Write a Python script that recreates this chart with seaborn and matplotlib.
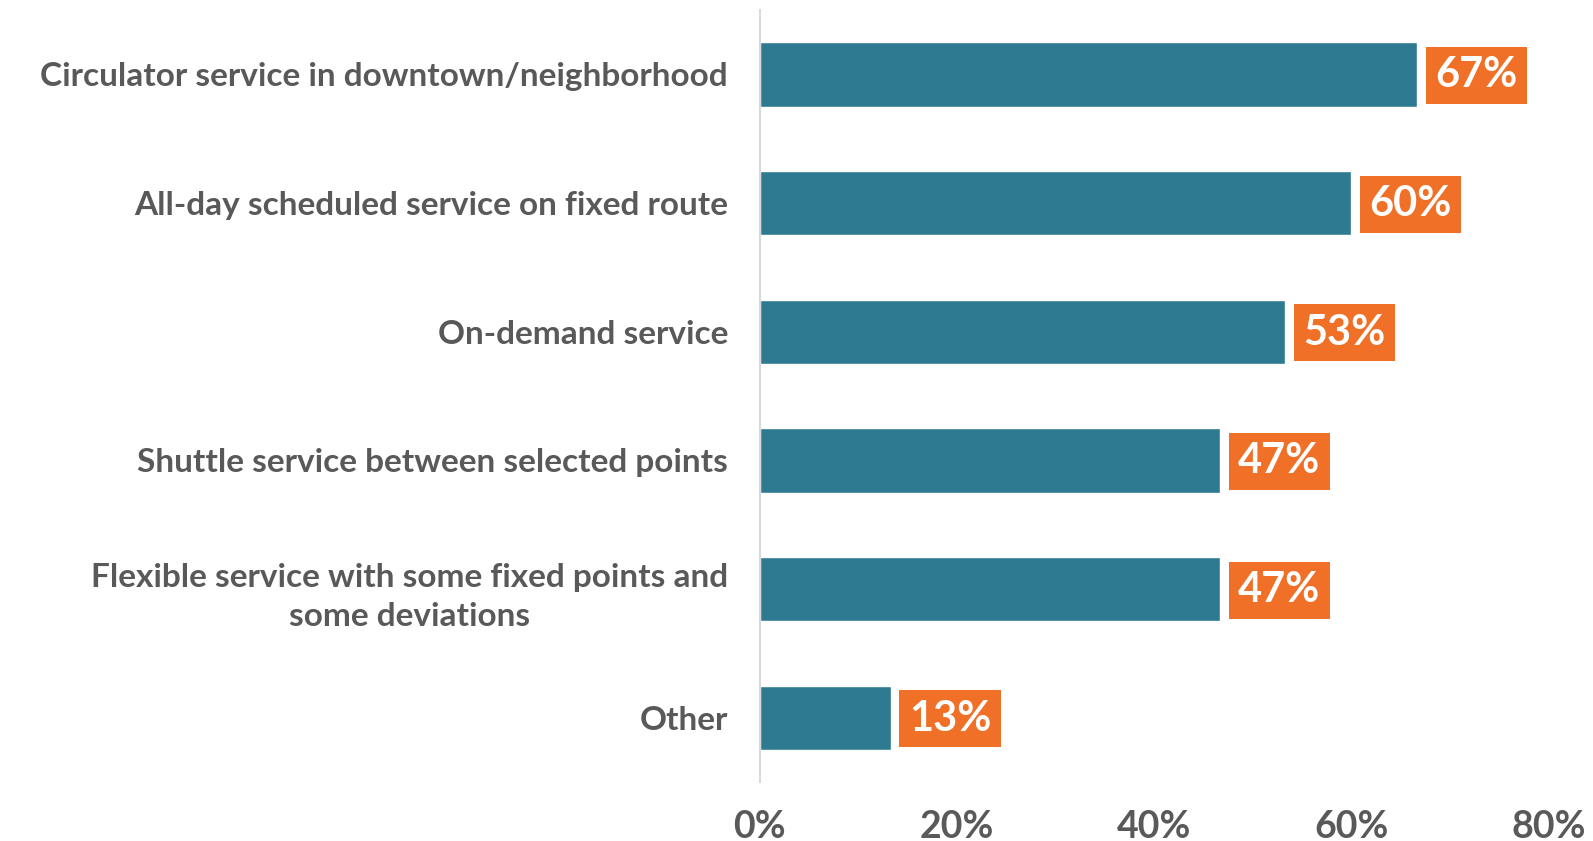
import numpy as np
import pandas as pd
import matplotlib
matplotlib.use('Agg')
import matplotlib.pyplot as plt
import seaborn as sns

categories = ['Circulator service in downtown/neighborhood',
              'All-day scheduled service on fixed route',
              'On-demand service',
              'Shuttle service between selected points',
              'Flexible service with some fixed points and\nsome deviations',
              'Other']
shares = [66.7, 60.0, 53.3, 46.7, 46.7, 13.3]
x_ticks = [0, 20, 40, 60, 80]

bar_color = '#2E7A90'
box_color = '#F07027'
text_color = '#595959'

sns.set_theme(style='white')
plt.rcParams['font.family'] = ['Lato', 'DejaVu Sans']
plt.rcParams['font.weight'] = 'bold'

df = pd.DataFrame({'service': categories, 'share': shares})

fig = plt.figure(figsize=(15.93, 8.41), dpi=100)
ax = fig.add_axes([0.477, 0.070, 0.495, 0.918])

sns.barplot(data=df, x='share', y='service', orient='h', color=bar_color,
            width=0.5, saturation=1, ax=ax)

# orange value boxes
for i, v in enumerate(shares):
    ax.annotate(f'{v:.0f}%', xy=(v, i), xytext=(18, -1), textcoords='offset pixels',
                ha='left', va='center', color='white', fontsize=30, fontweight='bold',
                bbox=dict(boxstyle='square,pad=0.23', fc=box_color, ec='none'))

ax.set_xlim(0, 80)
ax.set_ylim(5.5, -0.5)
ax.set_xticks(x_ticks)
ax.set_xticklabels([f'{t}%' for t in x_ticks])
ax.set_xlabel('')
ax.set_ylabel('')
ax.tick_params(axis='x', length=0, pad=20, labelsize=27, labelcolor=text_color)
ax.tick_params(axis='y', length=0, pad=23, labelsize=24, labelcolor=text_color)
for lab in ax.get_yticklabels():
    lab.set_multialignment('center')
    lab.set_fontweight('bold')
    lab.set_linespacing(1.45)
for lab in ax.get_xticklabels():
    lab.set_fontweight('bold')

for s in ['top', 'right', 'bottom']:
    ax.spines[s].set_visible(False)
ax.spines['left'].set_color('#D9D9D9')
ax.spines['left'].set_linewidth(1.5)

fig.savefig('out.png', dpi=100)
